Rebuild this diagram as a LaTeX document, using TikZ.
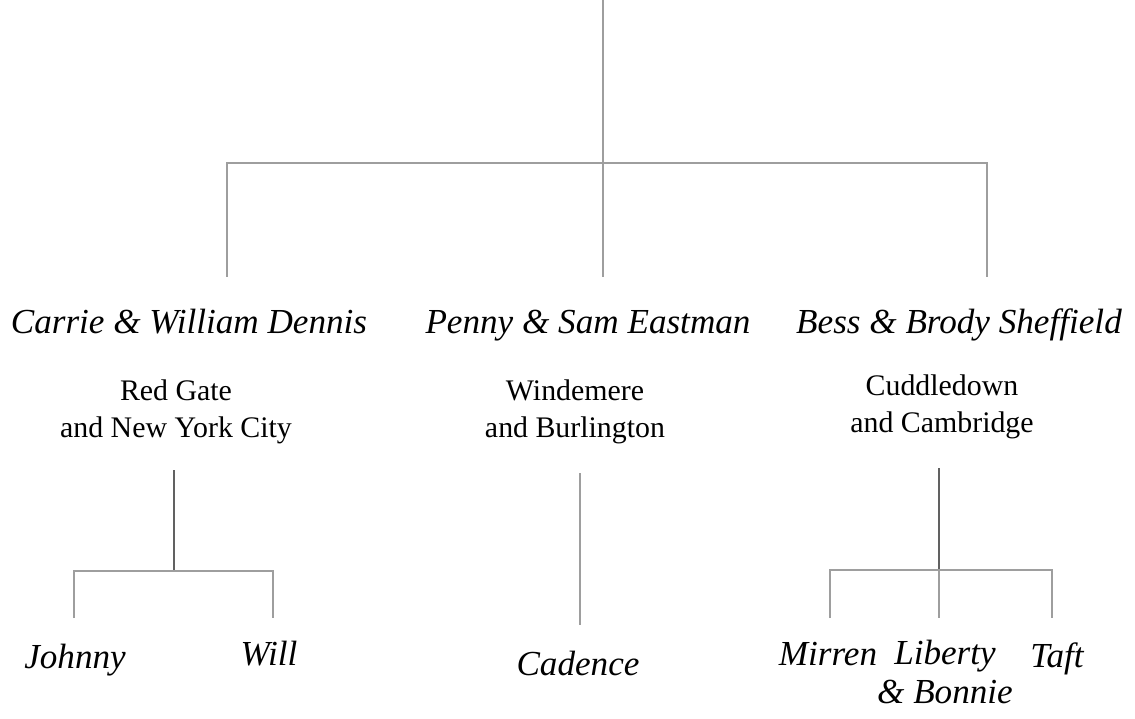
\documentclass[tikz,border=0pt]{standalone}
\usepackage{fontspec}
\setmainfont{Liberation Serif}
\begin{document}
\begin{tikzpicture}[x=0.02cm,y=-0.02cm,
 couple/.style={font=\fontsize{20}{24}\selectfont\itshape,inner sep=0pt,anchor=base},
 home/.style={font=\fontsize{17}{21}\selectfont,align=center,inner sep=0pt,anchor=base},
 kid/.style={font=\fontsize{20}{22}\selectfont\itshape,align=center,inner sep=0pt,anchor=base},
 branch/.style={draw=black!38,line width=1.1pt},
 trunk/.style={draw=black!62,line width=1.1pt}]
\useasboundingbox (0,0) rectangle (1135,719);
% cac cap vo chong (base = dong cuoi)
\node[couple] (cw) at (189,334) {Carrie \& William Dennis};
\node[couple] (ps) at (588,334) {Penny \& Sam Eastman};
\node[couple] (bb) at (959,334) {Bess \& Brody Sheffield};
\node[home] (cwhome) at (176,437) {Red Gate\\and New York City};
\node[home] (pshome) at (575,437) {Windemere\\and Burlington};
\node[home] (bbhome) at (942,432) {Cuddledown\\and Cambridge};
% cac con
\node[kid] (johnny) at (75,668) {Johnny};
\node[kid] (will) at (269,665) {Will};
\node[kid] (cadence) at (578,675) {Cadence};
\node[kid] (mirren) at (828,665) {Mirren};
\node[kid] (liberty) at (945,703) {Liberty\\\& Bonnie};
\node[kid] (taft) at (1057,667) {Taft};
% diem noi
\coordinate (root) at (603,0);  \coordinate (tj) at (603,163);
\coordinate (cwtop) at (227,277); \coordinate (pstop) at (603,277); \coordinate (bbtop) at (987,277);
\coordinate (cwout) at (174,470); \coordinate (psout) at (580,473); \coordinate (bbout) at (939,468);
\coordinate (cwj) at (174,571); \coordinate (bbj) at (939,570);
\coordinate (johnnytop) at (74,618); \coordinate (willtop) at (273,618);
\coordinate (cadencetop) at (580,625);
\coordinate (mirrentop) at (830,618); \coordinate (libertytop) at (939,618); \coordinate (tafttop) at (1052,618);
% nhanh tren
\draw[branch] (root)--(pstop);
\draw[branch] (cwtop)--(cwtop|-tj)--(bbtop|-tj)--(bbtop);
% nhanh duoi
\draw[trunk] (cwout)--(cwj);
\draw[branch] (johnnytop)--(johnnytop|-cwj)--(willtop|-cwj)--(willtop);
\draw[branch] (psout)--(cadencetop);
\draw[trunk] (bbout)--(bbj);
\draw[branch] (mirrentop)--(mirrentop|-bbj)--(tafttop|-bbj)--(tafttop);
\draw[branch] (bbj)--(libertytop);
\end{tikzpicture}
\end{document}
